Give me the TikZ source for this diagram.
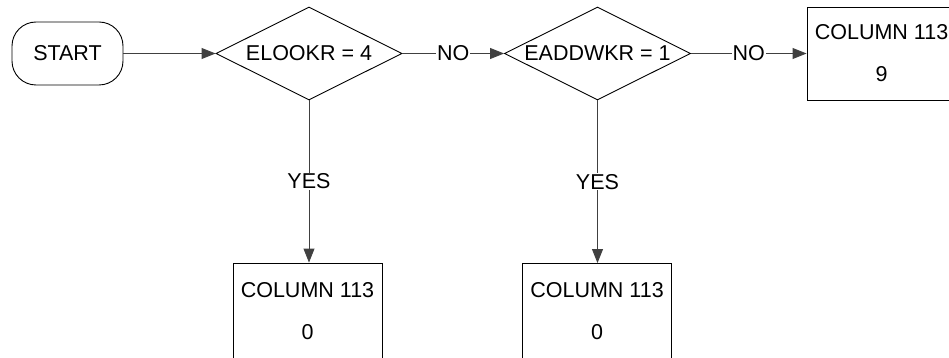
\documentclass[tikz,border=0pt]{standalone}
\usepackage{fontspec}
\setmainfont{Liberation Sans}
\usetikzlibrary{shapes.geometric,arrows.meta}
\tikzset{
  lbl/.style={font=\fontsize{21.5}{25}\selectfont},
  startbox/.style={draw=black, line width=0.9pt, rounded corners=24pt, minimum width=111pt, minimum height=63pt, inner sep=0pt, lbl},
  decide/.style={draw=black, line width=0.9pt, diamond, shape aspect=2, minimum width=186pt, minimum height=93pt, inner sep=-6pt, lbl},
  colbox/.style={draw=black, line width=0.9pt, minimum width=149pt, minimum height=93pt, inner sep=0pt, align=center, lbl},
  conn/.style={draw=black!75, line width=0.9pt, -{Triangle[length=14pt,width=11pt]}},
  clabel/.style={fill=white, inner sep=1pt, lbl}
}
\begin{document}
\begin{tikzpicture}[x=1pt,y=-1pt]
\useasboundingbox (0,0) rectangle (949,358);
\clip (0,0) rectangle (949,358);
\node[startbox] (start) at (67.5,53.5) {START};
\node[decide] (d1) at (309,53.5) {ELOOKR = 4};
\node[decide] (d2) at (597.5,53.5) {EADDWKR = 1};
\node[colbox] (c9) at (881.5,53.5) {COLUMN 113\\[17pt]9};
\node[colbox, minimum height=96pt] (c0a) at (307.5,311) {COLUMN 113\\[17pt]0};
\node[colbox, minimum height=96pt] (c0b) at (597,311.5) {COLUMN 113\\[17pt]0};
\draw[conn] (start.east) -- (d1.west);
\draw[conn] (d1.east) -- node[clabel] {NO} (d2.west);
\draw[conn] (d2.east) -- node[clabel] {NO} (c9.west);
\draw[conn] (d1.south) -- node[clabel] {YES} (d1.south |- c0a.north);
\draw[conn] (d2.south) -- node[clabel] {YES} (d2.south |- c0b.north);
\end{tikzpicture}
\end{document}
